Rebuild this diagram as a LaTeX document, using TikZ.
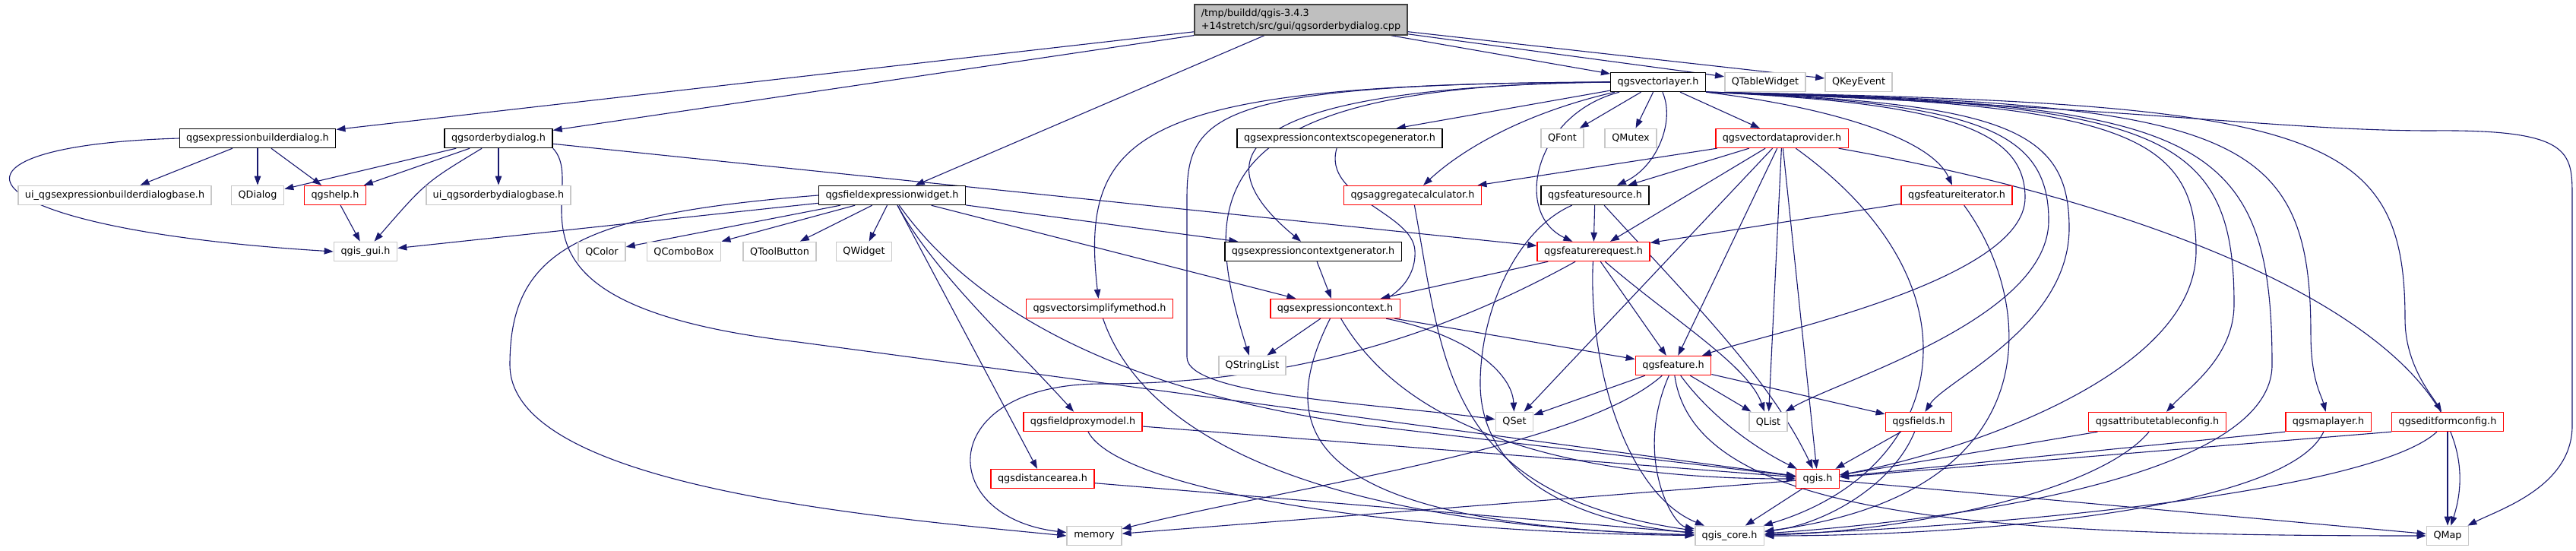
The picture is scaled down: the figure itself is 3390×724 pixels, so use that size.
\documentclass[tikz,border=0pt]{standalone}
\usepackage{fontspec}
\setmainfont{DejaVu Sans}
\usepackage{tikz}
\usetikzlibrary{arrows.meta,backgrounds}
\definecolor{edgeblue}{RGB}{25,25,112}
\definecolor{rootgray}{RGB}{191,191,191}
\definecolor{rootline}{RGB}{64,64,64}
\definecolor{extgray}{RGB}{200,200,200}
\definecolor{truncred}{RGB}{255,0,0}
\newcommand{\hdrfont}{\fontsize{12.8}{17}\selectfont}

\begin{document}
\begin{tikzpicture}[x=1pt,y=-1pt]
\tikzstyle{hdr} = [rectangle, minimum height=25pt, inner xsep=9pt, inner ysep=2pt, fill=white, font=\hdrfont, line width=1.4pt]
\tikzstyle{rootfile} = [hdr, draw=rootline, fill=rootgray, align=left, minimum height=40pt]
\tikzstyle{docfile} = [hdr, draw=black]
\tikzstyle{truncfile} = [hdr, draw=truncred]
\tikzstyle{extfile} = [hdr, draw=extgray, line width=1.8pt]
\tikzstyle{dep} = [draw=edgeblue, line width=1.1pt, -{Triangle[length=12pt,width=8.5pt]}]

\useasboundingbox (0,0) rectangle (3390,724);

\node (root) [rootfile] at (1712,26) {/tmp/buildd/qgis-3.4.3\\+14stretch/src/gui/qgsorderbydialog.cpp};

\node (vlayer) [docfile] at (2182,108) {qgsvectorlayer.h};
\node (tablew) [extfile] at (2323,108) {QTableWidget};
\node (keyev) [extfile] at (2446,108) {QKeyEvent};

\node (bdlg) [docfile] at (339,182) {qgsexpressionbuilderdialog.h};
\node (odlg) [docfile] at (656,182) {qgsorderbydialog.h};
\node (scopegen) [docfile] at (1763,182) {qgsexpressioncontextscopegenerator.h};
\node (qfont) [extfile] at (2056,182) {QFont};
\node (qmutex) [extfile] at (2146,182) {QMutex};
\node (vdp) [truncfile] at (2345,182) {qgsvectordataprovider.h};

\node (uibdlg) [extfile] at (151,257) {ui\_qgsexpressionbuilderdialogbase.h};
\node (qdialog) [extfile] at (339,257) {QDialog};
\node (qgshelp) [truncfile] at (441,257) {qgshelp.h};
\node (uiodlg) [extfile] at (656,257) {ui\_qgsorderbydialogbase.h};
\node (fewidget) [docfile] at (1174,257) {qgsfieldexpressionwidget.h};
\node (aggcalc) [truncfile] at (1859,257) {qgsaggregatecalculator.h};
\node (fsource) [docfile] at (2099,257) {qgsfeaturesource.h};
\node (fiter) [truncfile] at (2575,257) {qgsfeatureiterator.h};

\node (qgisgui) [extfile] at (481,331) {qgis\_gui.h};
\node (qcolor) [extfile] at (792,331) {QColor};
\node (qcombo) [extfile] at (900,331) {QComboBox};
\node (qtoolbtn) [extfile] at (1026,331) {QToolButton};
\node (qwidget) [extfile] at (1137,331) {QWidget};
\node (ctxgen) [docfile] at (1728,331) {qgsexpressioncontextgenerator.h};
\node (frequest) [truncfile] at (2097,331) {qgsfeaturerequest.h};

\node (simplify) [truncfile] at (1447,406) {qgsvectorsimplifymethod.h};
\node (exprctx) [truncfile] at (1757,406) {qgsexpressioncontext.h};

\node (qstrlist) [extfile] at (1648,481) {QStringList};
\node (feature) [truncfile] at (2202,481) {qgsfeature.h};

\node (proxymodel) [truncfile] at (1425,555) {qgsfieldproxymodel.h};
\node (qset) [extfile] at (1993,555) {QSet};
\node (qlist) [extfile] at (2327,555) {QList};
\node (fields) [truncfile] at (2525,555) {qgsfields.h};
\node (attrtable) [truncfile] at (2839,555) {qgsattributetableconfig.h};
\node (maplayer) [truncfile] at (3064,555) {qgsmaplayer.h};
\node (editform) [truncfile] at (3221,555) {qgseditformconfig.h};

\node (distarea) [truncfile] at (1372,630) {qgsdistancearea.h};
\node (qgish) [truncfile] at (2392,630) {qgis.h};

\node (memory) [extfile] at (1440,705) {memory};
\node (qgiscore) [extfile] at (2276,705) {qgis\_core.h};
\node (qmap) [extfile] at (3221,705) {QMap};

\begin{scope}[on background layer]
\draw [dep] (root) -- (bdlg);
\draw [dep] (root) -- (odlg);
\draw [dep] (root) -- (fewidget);
\draw [dep] (root) -- (vlayer);
\draw [dep] (root) -- (tablew);
\draw [dep] (root) -- (keyev);

\draw [dep] (bdlg) -- (uibdlg);
\draw [dep] (bdlg) -- (qdialog);
\draw [dep] (bdlg) -- (qgshelp);
\draw [dep] (bdlg.west) .. controls (-110,192) and (-60,300) .. (qgisgui.west);

\draw [dep] (odlg) -- (qdialog);
\draw [dep] (odlg) -- (qgshelp);
\draw [dep] (odlg) .. controls (560,240) .. (qgisgui);
\draw [dep] (odlg) -- (uiodlg);
\draw [dep] (odlg) -- (frequest);
\draw [dep] (odlg.south east) .. controls (780,250) and (620,400) .. (1050,450) -- (qgish);

\draw [dep] (qgshelp) -- (qgisgui);

\draw [dep] (fewidget) -- (qgisgui);
\draw [dep] (fewidget.west) .. controls (760,282) and (671,330) .. (671,480) .. controls (671,640) and (1150,680) .. (memory.west);
\draw [dep] (fewidget) -- (qcolor);
\draw [dep] (fewidget) -- (qcombo);
\draw [dep] (fewidget) -- (qtoolbtn);
\draw [dep] (fewidget) -- (qwidget);
\draw [dep] (fewidget) -- (ctxgen);
\draw [dep] (fewidget) -- (exprctx);
\draw [dep] (fewidget) .. controls (1230,360) and (1330,450) .. (proxymodel);
\draw [dep] (fewidget) -- (distarea);
\draw [dep] (fewidget) .. controls (1290,420) and (1500,520) .. (1800,560) -- (qgish);

\draw [dep] (vlayer) -- (qfont);
\draw [dep] (vlayer) -- (qmutex);
\draw [dep] (vlayer) .. controls (2205,160) and (2180,220) .. (fsource);
\draw [dep] (vlayer) -- (vdp);
\draw [dep] (vlayer) -- (scopegen);
\draw [dep] (vlayer) .. controls (2000,150) and (1920,200) .. (aggcalc);
\draw [dep] (vlayer) .. controls (2020,150) and (1990,280) .. (frequest);
\draw [dep] (vlayer.west) .. controls (1640,115) and (1570,200) .. (ctxgen);
\draw [dep] (vlayer.west) .. controls (1590,112) and (1575,250) .. (qstrlist);
\draw [dep] (vlayer.west) .. controls (1600,110) and (1562,150) .. (1562,260) -- (1562,470) .. controls (1562,520) and (1800,530) .. (qset);
\draw [dep] (vlayer.west) .. controls (1500,110) and (1420,170) .. (simplify);
\draw [dep] (vlayer.south east) .. controls (2400,140) and (2540,180) .. (fiter);
\draw [dep] (vlayer.south east) .. controls (2560,135) and (2665,170) .. (2665,260) .. controls (2665,370) and (2320,440) .. (feature);
\draw [dep] (vlayer.south east) .. controls (2600,135) and (2696,170) .. (2696,290) .. controls (2696,420) and (2420,500) .. (qlist);
\draw [dep] (vlayer.south east) .. controls (2640,135) and (2723,170) .. (2723,300) .. controls (2723,430) and (2560,500) .. (fields);
\draw [dep] (vlayer.south east) .. controls (2780,135) and (2890,170) .. (2890,330) .. controls (2890,500) and (2560,600) .. (qgish);
\draw [dep] (vlayer.south east) .. controls (2840,135) and (2940,170) .. (2940,400) .. controls (2940,470) and (2880,510) .. (attrtable);
\draw [dep] (vlayer.south east) .. controls (2890,135) and (2990,170) .. (2990,480) .. controls (2990,640) and (2500,690) .. (qgiscore);
\draw [dep] (vlayer.south east) .. controls (2940,135) and (3041,170) .. (3041,440) .. controls (3041,500) and (3055,520) .. (maplayer);
\draw [dep] (vlayer.south east) .. controls (3050,135) and (3165,170) .. (3165,420) .. controls (3165,480) and (3200,520) .. (editform);
\draw [dep] (vlayer.south east) .. controls (2800,140) and (3000,172) .. (3200,172) .. controls (3385,170) and (3385,200) .. (3385,260) -- (3385,560) .. controls (3385,640) and (3290,670) .. (qmap);

\draw [dep] (vdp) -- (aggcalc);
\draw [dep] (vdp) -- (fsource);
\draw [dep] (vdp) -- (frequest);
\draw [dep] (vdp) -- (qset);
\draw [dep] (vdp) -- (feature);
\draw [dep] (vdp) -- (qlist);
\draw [dep] (vdp) -- (qgish);
\draw [dep] (vdp) .. controls (2620,380) and (2560,620) .. (qgiscore);
\draw [dep] (vdp) .. controls (2900,280) and (3300,460) .. (qmap);

\draw [dep] (fsource) -- (frequest);
\draw [dep] (fsource) .. controls (2230,400) and (2330,500) .. (qgish);
\draw [dep] (fsource) .. controls (2000,300) and (1950,400) .. (1948,500) .. controls (1945,640) and (2100,690) .. (qgiscore);

\draw [dep] (frequest) -- (exprctx);
\draw [dep] (frequest) .. controls (1900,440) and (1700,505) .. (1450,505) .. controls (1230,505) and (1230,680) .. (memory);
\draw [dep] (frequest) -- (feature);
\draw [dep] (frequest) .. controls (2200,420) and (2300,480) .. (qlist);
\draw [dep] (frequest) .. controls (2090,480) and (2140,650) .. (qgiscore);

\draw [dep] (fiter) -- (frequest);
\draw [dep] (fiter) .. controls (2680,400) and (2700,650) .. (qgiscore);

\draw [dep] (scopegen) .. controls (1740,260) and (1860,280) .. (1862,330) .. controls (1864,370) and (1830,390) .. (exprctx);
\draw [dep] (aggcalc) .. controls (1900,480) and (1900,650) .. (qgiscore);
\draw [dep] (ctxgen) -- (exprctx);
\draw [dep] (simplify) .. controls (1500,560) and (1700,690) .. (qgiscore);

\draw [dep] (exprctx) -- (qstrlist);
\draw [dep] (exprctx) .. controls (1680,560) and (1700,690) .. (qgiscore);
\draw [dep] (exprctx) .. controls (1870,600) and (2150,630) .. (qgish);
\draw [dep] (exprctx) -- (feature);
\draw [dep] (exprctx) .. controls (1930,440) and (1990,490) .. (qset);

\draw [dep] (proxymodel) -- (qgish);
\draw [dep] (proxymodel) .. controls (1470,640) and (1800,700) .. (qgiscore);
\draw [dep] (distarea) -- (qgiscore);

\draw [dep] (feature) -- (qset);
\draw [dep] (feature) .. controls (2080,590) and (1700,640) .. (memory);
\draw [dep] (feature) .. controls (2150,600) and (2200,690) .. (qgiscore);
\draw [dep] (feature) -- (qlist);
\draw [dep] (feature) -- (fields);
\draw [dep] (feature) .. controls (2260,560) and (2330,600) .. (qgish);
\draw [dep] (feature) .. controls (2230,680) and (2600,705) .. (qmap);

\draw [dep] (fields) -- (qgish);
\draw [dep] (fields) .. controls (2490,640) and (2400,690) .. (qgiscore);
\draw [dep] (attrtable) -- (qgish);
\draw [dep] (attrtable) .. controls (2760,650) and (2500,700) .. (qgiscore);
\draw [dep] (maplayer.south west) -- (qgish);
\draw [dep] (maplayer) .. controls (3010,670) and (2600,705) .. (qgiscore);
\draw [dep] (editform.south west) -- (qgish);
\draw [dep] (editform) .. controls (3130,640) and (2700,690) .. (qgiscore);
\draw [dep] (editform) -- (qmap);

\draw [dep] (qgish) -- (memory);
\draw [dep] (qgish) -- (qgiscore);
\draw [dep] (qgish) -- (qmap);
\end{scope}
\end{tikzpicture}
\end{document}
